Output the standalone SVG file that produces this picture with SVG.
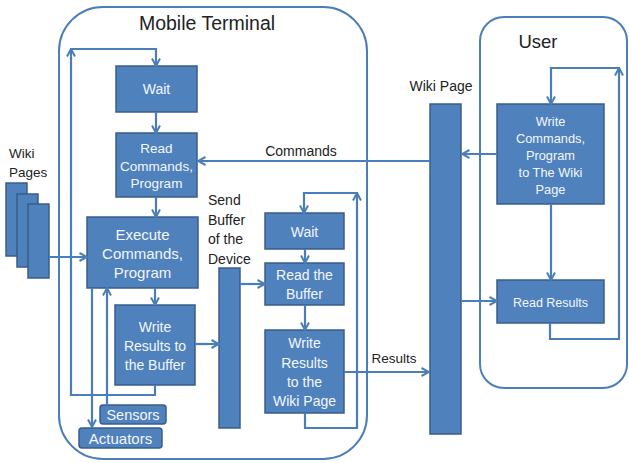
<svg xmlns="http://www.w3.org/2000/svg" width="629" height="463" viewBox="0 0 629 463">
<style>
.box{fill:#4F81BD;stroke:#385D8A;stroke-width:1.5}
.cont{fill:none;stroke:#4A7EBB;stroke-width:2}
.ln{fill:none;stroke:#4A7EBB;stroke-width:2.2}
.arr{marker-end:url(#ah)}
.wt{fill:#F4F7FC;font-family:"Liberation Sans",Arial,sans-serif;font-size:14px;text-anchor:middle}
.dt{fill:#222222;font-family:"Liberation Sans",Arial,sans-serif;font-size:14px}
</style>
<defs>
<marker id="ah" viewBox="0 0 10 10" refX="9" refY="5" markerWidth="10" markerHeight="10" markerUnits="userSpaceOnUse" orient="auto">
<path d="M1.5,1 L9,5 L1.5,9" fill="none" stroke="#4A7EBB" stroke-width="2"/>
</marker>
</defs>
<rect x="0" y="0" width="629" height="463" fill="#ffffff"/>

<g id="mobile-terminal">
<rect class="cont" x="59" y="7" width="308" height="452" rx="44"/>
<text class="dt" x="207" y="30" text-anchor="middle" style="font-size:19.5px">Mobile Terminal</text>
</g>
<g id="user">
<rect class="cont" x="480" y="17" width="147" height="371" rx="24"/>
<text class="dt" x="538" y="48" text-anchor="middle" style="font-size:18.5px">User</text>
</g>

<g id="wiki-pages">
<rect class="box" x="6" y="183" width="21" height="73"/>
<rect class="box" x="17" y="194" width="21" height="73"/>
<rect class="box" x="28" y="204" width="21" height="74"/>
<text class="dt" x="9" y="158" style="font-size:13.5px">Wiki</text>
<text class="dt" x="9" y="177" style="font-size:13.5px">Pages</text>
</g>

<g id="wait1">
<rect class="box" x="116" y="66" width="81" height="46"/>
<text class="wt" x="156.5" y="94">Wait</text>
</g>
<g id="read-commands">
<rect class="box" x="116" y="133" width="81" height="64"/>
<text class="wt" x="156.5" y="153" style="font-size:13.5px">Read</text>
<text class="wt" x="156.5" y="170.5" style="font-size:13.5px">Commands,</text>
<text class="wt" x="156.5" y="188" style="font-size:13.5px">Program</text>
</g>
<g id="execute">
<rect class="box" x="87" y="217" width="111" height="71"/>
<text class="wt" x="142.5" y="240" style="font-size:15px">Execute</text>
<text class="wt" x="142.5" y="259" style="font-size:15px">Commands,</text>
<text class="wt" x="142.5" y="278" style="font-size:15px">Program</text>
</g>
<g id="write-buffer">
<rect class="box" x="115" y="305" width="80" height="80"/>
<text class="wt" x="155" y="332">Write</text>
<text class="wt" x="155" y="351">Results to</text>
<text class="wt" x="155" y="370">the Buffer</text>
</g>
<g id="sensors">
<rect class="box" x="100" y="405" width="66" height="19" rx="3"/>
<text class="wt" x="133" y="420" style="font-size:14.5px">Sensors</text>
</g>
<g id="actuators">
<rect class="box" x="79" y="428" width="83" height="20" rx="3"/>
<text class="wt" x="120.5" y="443.5" style="font-size:15px">Actuators</text>
</g>

<g id="send-buffer">
<rect class="box" x="219" y="268" width="21" height="160"/>
<text class="dt" x="208" y="205">Send</text>
<text class="dt" x="208" y="225">Buffer</text>
<text class="dt" x="208" y="244">of the</text>
<text class="dt" x="208" y="264">Device</text>
</g>

<g id="wait2">
<rect class="box" x="265" y="213" width="79" height="36"/>
<text class="wt" x="304.5" y="236.5">Wait</text>
</g>
<g id="read-buffer">
<rect class="box" x="265" y="263" width="79" height="42"/>
<text class="wt" x="304.5" y="280">Read the</text>
<text class="wt" x="304.5" y="299">Buffer</text>
</g>
<g id="write-wiki">
<rect class="box" x="265" y="330" width="79" height="83"/>
<text class="wt" x="304.5" y="348">Write</text>
<text class="wt" x="304.5" y="367.5">Results</text>
<text class="wt" x="304.5" y="386.5">to the</text>
<text class="wt" x="304.5" y="405.5">Wiki Page</text>
</g>

<g id="wiki-page">
<rect class="box" x="430" y="104" width="31" height="330"/>
<text class="dt" x="441" y="91" text-anchor="middle">Wiki Page</text>
</g>

<g id="write-commands">
<rect class="box" x="497" y="104" width="107" height="100"/>
<text class="wt" x="550.5" y="125.5" style="font-size:12.8px">Write</text>
<text class="wt" x="550.5" y="142.5" style="font-size:12.8px">Commands,</text>
<text class="wt" x="550.5" y="159.5" style="font-size:12.8px">Program</text>
<text class="wt" x="550.5" y="177" style="font-size:12.8px">to The Wiki</text>
<text class="wt" x="550.5" y="194" style="font-size:12.8px">Page</text>
</g>
<g id="read-results">
<rect class="box" x="497" y="280" width="107" height="43"/>
<text class="wt" x="550.5" y="306.5" style="font-size:12.5px">Read Results</text>
</g>

<g id="connectors">
<path class="ln arr" d="M156,112 V133"/>
<path class="ln arr" d="M156,197 V217"/>
<path class="ln arr" d="M155,288 V305"/>
<path class="ln arr" d="M155,385 V395 H71 V49"/>
<path class="ln arr" d="M70,49 H156 V66"/>
<path class="ln arr" d="M49,257 H87"/>
<path class="ln arr" d="M92,288 V427"/>
<path class="ln arr" d="M107,405 V288"/>
<path class="ln arr" d="M195,344 H219"/>
<path class="ln arr" d="M240,284 H265"/>
<path class="ln arr" d="M305,249 V263"/>
<path class="ln arr" d="M305,305 V330"/>
<path class="ln arr" d="M305,413 V428 H357 V193"/>
<path class="ln arr" d="M358,193 H304 V213"/>
<path class="ln arr" d="M344,372 H429"/>
<path class="ln arr" d="M430,161 H198"/>
<text class="dt" x="301" y="156" text-anchor="middle">Commands</text>
<text class="dt" x="394" y="363" text-anchor="middle" style="font-size:13.5px">Results</text>
<path class="ln arr" d="M497,154 H462"/>
<path class="ln arr" d="M461,301 H497"/>
<path class="ln arr" d="M551,204 V280"/>
<path class="ln arr" d="M550,323 V339 H619 V68"/>
<path class="ln arr" d="M620,68 H551 V104"/>
</g>
</svg>
